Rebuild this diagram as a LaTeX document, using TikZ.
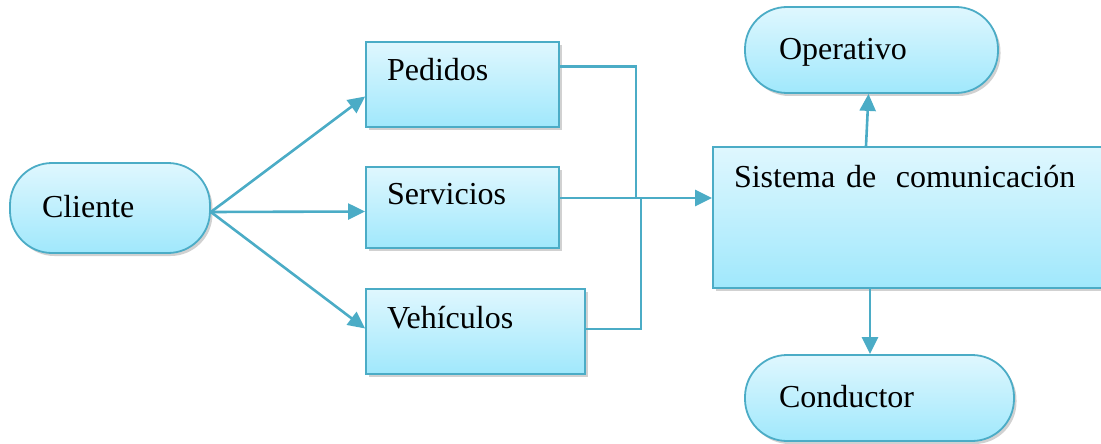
\documentclass[tikz,border=0pt]{standalone}
\usepackage{fontspec}
\setmainfont{Liberation Serif}
\usetikzlibrary{arrows.meta,shadows}

\definecolor{edge}{HTML}{4BACC6}
\definecolor{filltop}{HTML}{DFF7FE}
\definecolor{fillbot}{HTML}{A0E8FC}

\begin{document}
\begin{tikzpicture}[x=1pt,y=-1pt,
    base/.style={draw=edge,line width=1.8pt,top color=filltop,bottom color=fillbot,
      drop shadow={shadow xshift=2.5pt,shadow yshift=-3pt,opacity=0.3,fill=black!60},
      font=\fontsize{32}{38}\selectfont,align=left},
    pill/.style={base,rectangle,rounded corners=42pt,inner xsep=32pt,text height=22pt,text depth=3pt},
    box/.style={base,rectangle,inner xsep=21pt,text height=22pt,text depth=29pt},
    link/.style={draw=edge,line width=2.6pt},
    arr/.style={link,-{Triangle[length=17pt,width=16pt]}}]
    \useasboundingbox (0,0) rectangle (1101,444);
    \clip (0,0) rectangle (1101,444);

    \node[pill,minimum width=200pt,minimum height=90pt,text width=136pt] (cli) at (110,208) {Cliente};
    \node[box,minimum width=193pt,minimum height=85pt,text width=151pt] (ped) at (462.5,84.5) {Pedidos};
    \node[box,minimum width=193pt,minimum height=81pt,text width=151pt] (ser) at (462.5,207.5) {Servicios};
    \node[box,minimum width=219pt,minimum height=85pt,text width=177pt] (veh) at (475.5,331.5) {Vehículos};
    \node[box,minimum width=402pt,minimum height=141pt,text width=360pt,text depth=83pt] (sis) at (914,217.5) {Sistema de\hspace{9pt} comunicación};
    \node[pill,minimum width=253pt,minimum height=86pt,text width=185pt] (ope) at (871.5,50) {Operativo};
    \node[pill,minimum width=269pt,minimum height=86pt,text width=201pt] (con) at (879.5,398) {Conductor};

    \coordinate (m1) at (636,198);
    \coordinate (m2) at (641,198);

    \draw[arr] ([yshift=-4pt]cli.east) -- ([yshift=-12pt]ped.west);
    \draw[arr] ([yshift=-4pt]cli.east) -- ([yshift=-4pt]ser.west);
    \draw[arr] ([yshift=-4pt]cli.east) -- ([yshift=3pt]veh.west);
    \draw[link] ([yshift=18pt]ped.east) -| (m1);
    \draw[link] ([yshift=2.5pt]veh.east) -| (m2);
    \draw[arr] ([yshift=9.5pt]ser.east) -- ([yshift=19.5pt]sis.west);
    \draw[arr] ([xshift=-48pt]sis.north) -- ([xshift=-3pt]ope.south);
    \draw[arr] ([xshift=-44pt]sis.south) -- ([xshift=-9.5pt]con.north);
\end{tikzpicture}
\end{document}
